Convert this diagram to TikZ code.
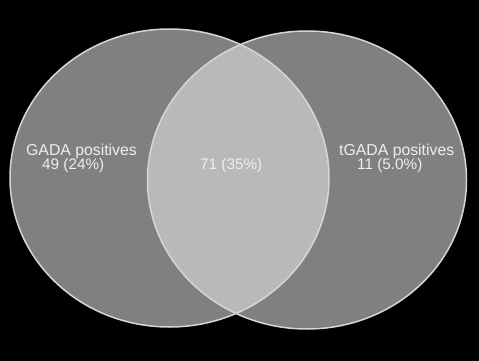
\documentclass[tikz,border=0pt]{standalone}
\usepackage{fontspec}
\setmainfont{Liberation Sans}
\definecolor{setgray}{HTML}{808080}
\definecolor{overlapgray}{HTML}{B9B9B9}
\definecolor{rimgray}{HTML}{D6D6D6}
\definecolor{labelgray}{HTML}{EEEEEE}
\tikzset{
  setlabel/.style={anchor=base west, inner sep=0pt, text=labelgray, font=\fontsize{15.8}{18}\selectfont},
  setcount/.style={anchor=base west, inner sep=0pt, text=labelgray, font=\fontsize{15.3}{18}\selectfont}
}
\begin{document}
\begin{tikzpicture}[x=1pt, y=-1pt, line join=round, line cap=round]
			\def\rx{159.5} \def\ry{149}  % radii of the two sets
			\fill[black] (0,0) rectangle (479,361);
			\useasboundingbox (0,0) rectangle (479,361);
			\fill[setgray] (169.5,178) ellipse [x radius=\rx, y radius=\ry];
			\fill[setgray] (307,180) ellipse [x radius=\rx, y radius=\ry];
			\begin{scope}
				\clip (169.5,178) ellipse [x radius=\rx, y radius=\ry];
				\fill[overlapgray] (307,180) ellipse [x radius=\rx, y radius=\ry];
			\end{scope}
			\draw[rimgray, line width=1.5pt] (169.5,178) ellipse [x radius=\rx, y radius=\ry];
			\draw[rimgray, line width=1.5pt] (307,180) ellipse [x radius=\rx, y radius=\ry];
			\node[setlabel] (gada) at (26,155) {GADA positives};
			\node[setcount] (gadan) at (42,169) {49 (24\%)};
			\node[setcount] (both) at (200,169) {71 (35\%)};
			\node[setlabel] (tgada) at (339,155) {tGADA positives};
			\node[setcount] (tgadan) at (357,169) {11 (5.0\%)};
		\end{tikzpicture}
\end{document}
